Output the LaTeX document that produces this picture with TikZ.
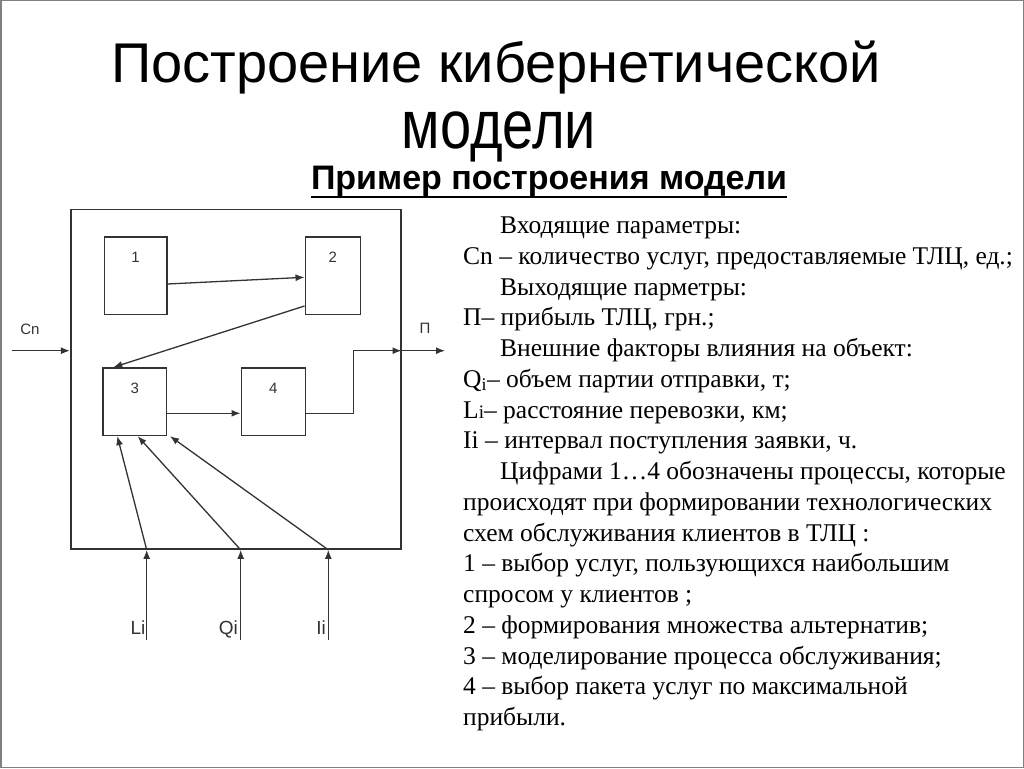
\documentclass[tikz,border=0pt]{standalone}
\usepackage{fontspec}
\setmainfont{Liberation Serif}
\setsansfont{Liberation Sans}
\usetikzlibrary{arrows.meta}
\definecolor{wire}{HTML}{333333}

\begin{document}
\begin{tikzpicture}[x=1pt, y=-1pt, >={Latex[length=9pt,width=7pt]},
    procbox/.style={draw=wire, line width=1.6pt, rectangle, inner sep=0pt},
    sig/.style={->, draw=wire, line width=1.3pt},
    lbl/.style={font=\sffamily\fontsize{15}{15}\selectfont, text=wire, inner sep=0pt},
    inlbl/.style={lbl, anchor=base east, font=\sffamily\fontsize{19}{19}\selectfont},
    note/.style={anchor=base west, inner sep=0pt, font=\fontsize{25.5}{25.5}\selectfont}]
    \useasboundingbox (0,0) rectangle (1024,768);
    \draw[gray, line width=1.5pt] (0.75,0.75) rectangle (1023.25,767.25);

    % titles
    \node[anchor=base, inner sep=0pt, font=\sffamily\fontsize{56}{56}\selectfont] (title) at (496,82) {Построение кибернетической};
    \node[anchor=base, inner sep=0pt, yscale=1.22, transform shape, font=\sffamily\fontsize{56}{56}\selectfont] (title2) at (499,148) {модели};
    \node[anchor=base, inner sep=0pt, font=\sffamily\bfseries\fontsize{34}{34}\selectfont] (sub) at (549,189) {Пример построения модели};
    \draw[line width=2pt] ([yshift=-8pt]sub.base west) -- ([yshift=-8pt]sub.base east);

    % model
    \node[procbox, minimum width=330pt, minimum height=339.7pt] (outer) at (235.7,379.2) {};
    \node[procbox, minimum width=62.4pt, minimum height=77.6pt, label={[lbl, anchor=center, yshift=-21.6pt]north:1}] (b1) at (135.5,275.5) {};
    \node[procbox, minimum width=55pt, minimum height=77.6pt, label={[lbl, anchor=center, yshift=-21.6pt]north:2}] (b2) at (332.8,275.5) {};
    \node[procbox, minimum width=63.3pt, minimum height=67.3pt, label={[lbl, anchor=center, yshift=-21pt]north:3}] (b3) at (134.7,401.7) {};
    \node[procbox, minimum width=64pt, minimum height=67.3pt, label={[lbl, anchor=center, yshift=-21pt]north:4}] (b4) at (273.3,401.7) {};

    \coordinate (inCn) at (12.3,350.7);
    \coordinate (outP) at (445,350.7);
    \coordinate (fL) at (146.7,640);
    \coordinate (fQ) at (240.7,640);
    \coordinate (fI) at (328.3,640);

    \node[lbl] (lCn) at (30,329.5) {Cn};
    \node[lbl] (lP) at (425,328) {П};
    \node[inlbl] (lL) at (145.5,634) {Li};
    \node[inlbl] (lQ) at (238,634) {Qi};
    \node[inlbl] (lI) at (326,634) {Ii};

    \draw[sig] ([yshift=-8.5pt]b1.east) -- ([yshift=-1.8pt]b2.west);
    \draw[sig] ([yshift=-30.5pt]b2.west) -- ([xshift=-21.4pt]b3.north);
    \draw[sig] ([yshift=-11.6pt]b3.east) -- ([yshift=-11.6pt]b4.west);
    \draw[sig] ([yshift=-11.6pt]b4.east) -- ++(47.4,0) |- ([yshift=28.5pt]outer.east);
    \draw[sig] ([yshift=28.5pt]outer.east) -- (outP);
    \draw[sig] (inCn) -- ([yshift=28.5pt]outer.west);

    \draw[sig] (fL) -- (fL |- outer.south);
    \draw[sig] (fQ) -- (fQ |- outer.south);
    \draw[sig] (fI) -- (fI |- outer.south);
    \draw[sig] (fL |- outer.south) -- ([xshift=-17.4pt]b3.south);
    \draw[sig] (fQ |- outer.south) -- ([xshift=3pt]b3.south);
    \draw[sig] (fI |- outer.south) -- ([xshift=35.3pt]b3.south);

    % description
    \foreach \xx/\txt [count=\i from 0] in {
        500/{Входящие параметры:},
        463/{Cn – количество услуг, предоставляемые ТЛЦ, ед.;},
        500/{Выходящие парметры:},
        463/{П– прибыль ТЛЦ, грн.;},
        500/{Внешние факторы влияния на объект:},
        463/{Q\textsubscript{i}– объем партии отправки, т;},
        463/{L{\fontsize{19}{19}\selectfont i}– расстояние перевозки, км;},
        463/{Ii – интервал поступления заявки, ч.},
        500/{Цифрами 1…4 обозначены процессы, которые},
        463/{происходят при формировании технологических},
        463/{схем обслуживания клиентов в ТЛЦ :},
        463/{1 – выбор услуг, пользующихся наибольшим},
        463/{спросом у клиентов ;},
        463/{2 – формирования множества альтернатив;},
        463/{3 – моделирование процесса обслуживания;},
        463/{4 – выбор пакета услуг по максимальной},
        463/{прибыли.}}
        \node[note] (ln\i) at (\xx,233.5+30.75*\i) {\txt};
\end{tikzpicture}
\end{document}
